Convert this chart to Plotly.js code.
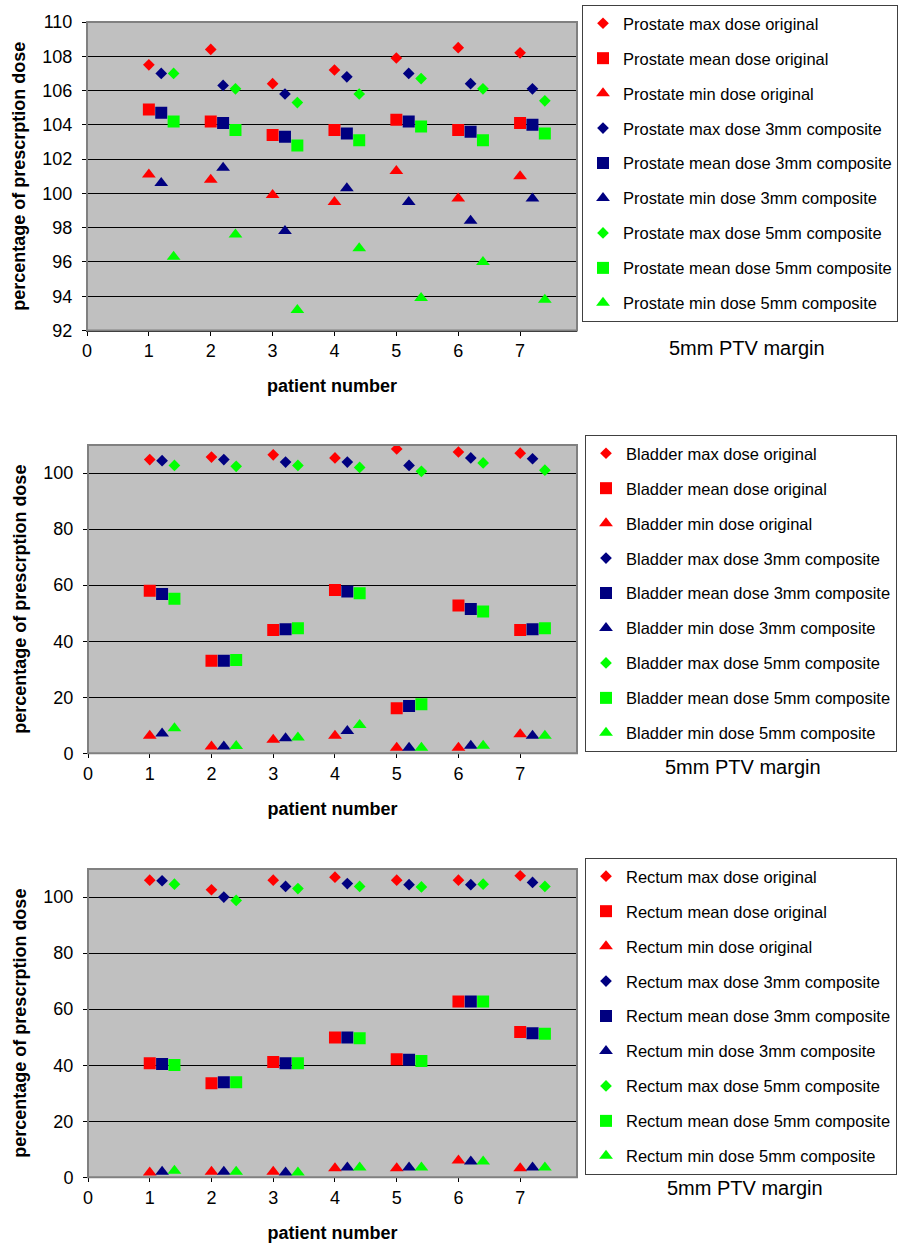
<!DOCTYPE html>
<html>
<head>
<meta charset="utf-8">
<script src="https://cdn.plot.ly/plotly-3.0.1.min.js"></script>
<style>html,body{margin:0;padding:0;background:#fff;}#chart{width:898px;height:1243px;}</style>
</head>
<body>
<div id="chart"></div>
<script>
// ---- data ----
const xOriginal = [1, 2, 3, 4, 5, 6, 7];
const x3mm = [1.2, 2.2, 3.2, 4.2, 5.2, 6.2, 7.2];
const x5mm = [1.4, 2.4, 3.4, 4.4, 5.4, 6.4, 7.4];
const xTickVals = [0, 1, 2, 3, 4, 5, 6, 7];

const prostateMaxOrig  = [107.5, 108.4, 106.4, 107.2, 107.9, 108.5, 108.2];
const prostateMeanOrig = [104.9, 104.2, 103.4, 103.7, 104.3, 103.7, 104.1];
const prostateMinOrig  = [101.1, 100.8, 99.9, 99.5, 101.3, 99.7, 101.0];
const prostateMax3     = [107.0, 106.3, 105.8, 106.8, 107.0, 106.4, 106.1];
const prostateMean3    = [104.7, 104.1, 103.3, 103.5, 104.2, 103.6, 104.0];
const prostateMin3     = [100.6, 101.5, 97.8, 100.3, 99.5, 98.4, 99.7];
const prostateMax5     = [107.0, 106.1, 105.3, 105.8, 106.7, 106.1, 105.4];
const prostateMean5    = [104.2, 103.7, 102.8, 103.1, 103.9, 103.1, 103.5];
const prostateMin5     = [96.3, 97.6, 93.2, 96.8, 93.9, 96.0, 93.8];

const bladderMaxOrig  = [104.8, 105.7, 106.5, 105.4, 108.6, 107.5, 107.1];
const bladderMeanOrig = [58.0, 33.0, 44.0, 58.3, 16.1, 52.7, 44.0];
const bladderMinOrig  = [6.3, 2.4, 4.8, 6.3, 2.0, 2.0, 6.8];
const bladderMax3     = [104.4, 104.8, 103.9, 103.9, 102.7, 105.4, 105.1];
const bladderMean3    = [56.8, 33.0, 44.3, 57.7, 16.9, 51.5, 44.3];
const bladderMin3     = [7.1, 2.4, 5.4, 8.0, 2.0, 2.7, 6.3];
const bladderMax5     = [102.7, 102.4, 102.7, 102.0, 100.6, 103.6, 101.0];
const bladderMean5    = [55.1, 33.3, 44.6, 57.1, 17.5, 50.6, 44.6];
const bladderMin5     = [8.9, 2.6, 5.6, 10.1, 2.0, 2.7, 6.3];

const rectumMaxOrig  = [106.0, 102.6, 106.0, 107.1, 106.0, 106.0, 107.6];
const rectumMeanOrig = [40.7, 33.6, 41.1, 49.9, 42.1, 62.7, 51.8];
const rectumMinOrig  = [1.7, 2.0, 2.0, 3.2, 3.2, 6.0, 3.2];
const rectumMax3     = [105.8, 100.0, 103.8, 104.8, 104.4, 104.4, 105.2];
const rectumMean3    = [40.4, 33.9, 40.7, 49.9, 41.9, 62.7, 51.4];
const rectumMin3     = [2.0, 2.0, 1.7, 3.5, 3.5, 5.6, 3.5];
const rectumMax5     = [104.6, 98.8, 103.0, 103.8, 103.6, 104.6, 103.8];
const rectumMean5    = [40.1, 33.9, 40.7, 49.6, 41.5, 62.7, 51.2];
const rectumMin5     = [2.3, 2.0, 1.7, 3.5, 3.5, 5.6, 3.5];

const seriesLabels = ['max dose original', 'mean dose original', 'min dose original',
  'max dose 3mm composite', 'mean dose 3mm composite', 'min dose 3mm composite',
  'max dose 5mm composite', 'mean dose 5mm composite', 'min dose 5mm composite'];
const subtitleText = '5mm PTV margin';
const xTitleText = 'patient number';
const yTitleText = 'percentage of prescrption dose';

// ---- styles ----
const FONT = 'Liberation Sans, Arial, Helvetica, sans-serif';
const colors = ['#FF0000', '#FF0000', '#FF0000', '#000080', '#000080', '#000080', '#00FF00', '#00FF00', '#00FF00'];
const symbols = ['diamond', 'square', 'triangle-up'];
const sizes = {diamond: 9, square: 12, 'triangle-up': 12};

function organTraces(organ, valueLists, xa, ya, legendId) {
  const xs = [xOriginal, xOriginal, xOriginal, x3mm, x3mm, x3mm, x5mm, x5mm, x5mm];
  return valueLists.map((vals, i) => {
    const sym = symbols[i % 3];
    return {
      type: 'scatter', mode: 'markers',
      x: xs[i], y: vals,
      xaxis: xa, yaxis: ya,
      name: organ + ' ' + seriesLabels[i],
      legend: legendId, legendgroup: legendId + '_' + i,
      marker: {symbol: sym, size: sizes[sym], color: colors[i], line: {width: 0}},
      hoverinfo: 'x+y+name'
    };
  });
}

const traces = [].concat(
  organTraces('Prostate', [prostateMaxOrig, prostateMeanOrig, prostateMinOrig, prostateMax3, prostateMean3, prostateMin3, prostateMax5, prostateMean5, prostateMin5], 'x', 'y', 'legend'),
  organTraces('Bladder', [bladderMaxOrig, bladderMeanOrig, bladderMinOrig, bladderMax3, bladderMean3, bladderMin3, bladderMax5, bladderMean5, bladderMin5], 'x2', 'y2', 'legend2'),
  organTraces('Rectum', [rectumMaxOrig, rectumMeanOrig, rectumMinOrig, rectumMax3, rectumMean3, rectumMin3, rectumMax5, rectumMean5, rectumMin5], 'x3', 'y3', 'legend3')
);

const W = 898, H = 1243;
const px = v => v / W;
const py = v => 1 - v / H;

function xAxis(domL, domR, anchor) {
  return {
    domain: [px(domL), px(domR)], anchor: anchor,
    range: [0, 7.92], tickvals: xTickVals, ticktext: xTickVals.map(String),
    ticks: 'outside', ticklen: 4, tickcolor: '#000', tickwidth: 1,
    showline: true, linecolor: '#000', linewidth: 1,
    showgrid: false, zeroline: false, automargin: false,
    tickfont: {family: FONT, size: 18, color: '#000'},
    title: {text: xTitleText, font: {family: FONT, size: 18, color: '#000', weight: 'bold'}, standoff: 19},
    fixedrange: true
  };
}
function yAxis(top, bottom, anchor, range, dtick) {
  return {
    domain: [py(bottom), py(top)], anchor: anchor,
    range: range, dtick: dtick, tick0: 0,
    ticks: 'outside', ticklen: 4, tickcolor: '#000', tickwidth: 1,
    showline: true, linecolor: '#000', linewidth: 1,
    showgrid: true, gridcolor: '#000', gridwidth: 1,
    zeroline: false, automargin: false, ticklabelstandoff: 6,
    tickfont: {family: FONT, size: 18, color: '#000'},
    title: {text: yTitleText, font: {family: FONT, size: 18, color: '#000', weight: 'bold'}, standoff: 12},
    fixedrange: true
  };
}

function legendBox(left, top) {
  return {
    x: px(left), y: py(top), xref: 'paper', yref: 'paper',
    xanchor: 'left', yanchor: 'top',
    bgcolor: '#FFFFFF', bordercolor: '#404040', borderwidth: 1,
    font: {family: FONT, size: 16.5, color: '#000'},
    traceorder: 'grouped', tracegroupgap: 10.5, itemsizing: 'trace'
  };
}

function frame(xr, yr) {
  return {type: 'rect', xref: xr + ' domain', yref: yr + ' domain', x0: 0, x1: 1, y0: 0, y1: 1,
    line: {color: '#808080', width: 2}, fillcolor: 'rgba(0,0,0,0)', layer: 'above'};
}

const layout = {
  width: W, height: H,
  margin: {l: 0, r: 0, t: 0, b: 0},
  paper_bgcolor: '#FFFFFF', plot_bgcolor: '#C0C0C0',
  font: {family: FONT, color: '#000'},
  showlegend: true,
  xaxis: xAxis(87, 577, 'y'),
  yaxis: yAxis(22, 330.5, 'x', [92, 110], 2),
  xaxis2: xAxis(88, 577, 'y2'),
  yaxis2: yAxis(445, 753.3, 'x2', [0, 110], 20),
  xaxis3: xAxis(88, 577, 'y3'),
  yaxis3: yAxis(869, 1177.3, 'x3', [0, 110], 20),
  legend: legendBox(582, 5),
  legend2: legendBox(585, 435),
  legend3: legendBox(585, 858),
  shapes: [frame('x', 'y'), frame('x2', 'y2'), frame('x3', 'y3')],
  annotations: [
    {text: subtitleText, x: px(747), y: py(348)},
    {text: subtitleText, x: px(743), y: py(767)},
    {text: subtitleText, x: px(745), y: py(1188)}
  ].map(a => Object.assign({xref: 'paper', yref: 'paper', xanchor: 'center', yanchor: 'middle', showarrow: false,
    font: {family: FONT, size: 20, color: '#000'}}, a))
};

Plotly.newPlot('chart', traces, layout, {displayModeBar: false, staticPlot: true});
</script>
</body>
</html>
